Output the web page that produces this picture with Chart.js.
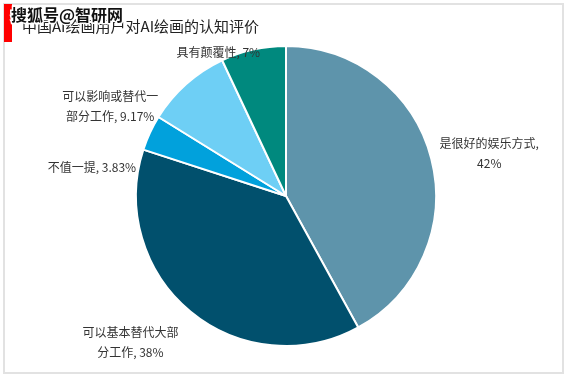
<!DOCTYPE html>
<html>
<head>
<meta charset="utf-8">
<script src="https://cdn.jsdelivr.net/npm/chart.js@4"></script>
<style>
  html, body { margin: 0; padding: 0; background: #fff; }
  #wrap { width: 567px; height: 378px; position: relative; }
</style>
</head>
<body>
<div id="wrap"><canvas id="pieChart" width="567" height="378"></canvas></div>
<script>
// data
const categories = ['是很好的娱乐方式', '可以基本替代大部分工作', '不值一提', '可以影响或替代一部分工作', '具有颠覆性'];
const shares = [42, 38, 3.83, 9.17, 7];
const sliceColors = ['#5e94ab', '#01506d', '#01a1dc', '#6ecff5', '#00897e'];
const chartTitle = '中国AI绘画用户对AI绘画的认知评价';
const watermark = '搜狐号@智研网';

// nudge of each label away from its slice edge
const labelShift = [[58, -5], [-60, 31], [-58, 35], [-76, 22], [-35, 3]];

const FONT = '"Noto Sans CJK SC", "Noto Sans", sans-serif';

function wrapText(ctx, text, maxW) {
    const lines = [];
    let cur = '';
    for (const ch of text) {
        if (ctx.measureText(cur + ch).width > maxW && cur) {
            lines.push(cur.trim());
            cur = ch;
        } else {
            cur += ch;
        }
    }
    if (cur.trim()) lines.push(cur.trim());
    return lines;
}

const decorPlugin = {
    id: 'decor',
    beforeDraw(chart) {
        const c = chart.ctx;
        c.save();
        // frame
        c.strokeStyle = '#e2e2e2';
        c.lineWidth = 2;
        c.strokeRect(4, 4, 559, 369);
        // red bar
        c.fillStyle = '#ff0000';
        c.fillRect(4, 4, 8, 38);
        // title
        c.fillStyle = '#222';
        c.font = '15px ' + FONT;
        c.textBaseline = 'middle';
        c.textAlign = 'left';
        c.fillText(chartTitle, 22, 26);
        // watermark
        c.font = 'bold 16px ' + FONT;
        c.lineWidth = 3;
        c.strokeStyle = '#fff';
        c.strokeText(watermark, 11, 15);
        c.fillStyle = '#111';
        c.fillText(watermark, 11, 15);
        c.restore();
    },
    afterDatasetsDraw(chart) {
        const c = chart.ctx;
        const meta = chart.getDatasetMeta(0);
        c.save();
        c.font = '12px ' + FONT;
        c.fillStyle = '#333';
        c.textAlign = 'center';
        c.textBaseline = 'middle';
        meta.data.forEach((arc, i) => {
            const mid = (arc.startAngle + arc.endAngle) / 2;
            const x = arc.x + Math.cos(mid) * arc.outerRadius + labelShift[i][0];
            const y = arc.y + Math.sin(mid) * arc.outerRadius + labelShift[i][1];
            const lines = wrapText(c, categories[i] + ', ' + shares[i] + '%', 100);
            const lh = 20;
            const y0 = y - (lines.length - 1) * lh / 2;
            lines.forEach((ln, k) => c.fillText(ln, x, y0 + k * lh));
        });
        c.restore();
    }
};

new Chart(document.getElementById('pieChart').getContext('2d'), {
    type: 'pie',
    data: {
        labels: categories,
        datasets: [{
            data: shares,
            backgroundColor: sliceColors,
            borderColor: '#ffffff',
            borderWidth: 2
        }]
    },
    options: {
        responsive: false,
        animation: false,
        layout: { padding: { left: 135, right: 130, top: 45, bottom: 31 } },
        plugins: {
            legend: { display: false },
            tooltip: { enabled: false }
        }
    },
    plugins: [decorPlugin]
});
</script>
</body>
</html>
